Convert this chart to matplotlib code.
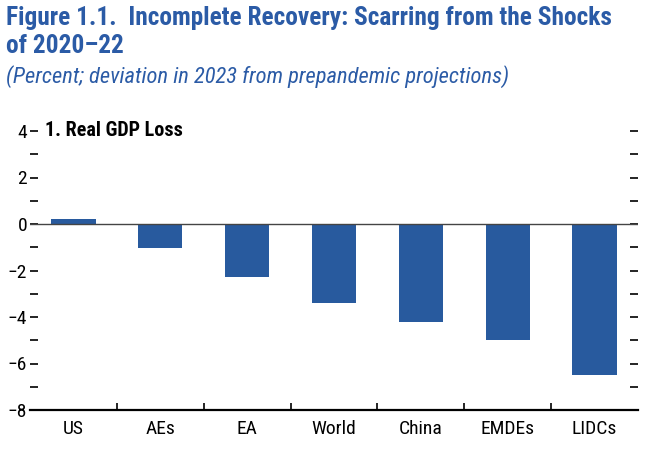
import matplotlib
matplotlib.use("Agg")
import matplotlib.pyplot as plt
from matplotlib import font_manager as fm
import numpy as np

categories = ["US", "AEs", "EA", "World", "China", "EMDEs", "LIDCs"]
values = [0.22, -1.05, -2.3, -3.4, -4.2, -5.0, -6.5]
major_ticks = [4, 2, 0, -2, -4, -6, -8]

names = {f.name for f in fm.fontManager.ttflist}
fam = None
for cand in ["Liberation Sans Narrow", "Roboto Condensed", "DejaVu Sans Condensed", "Liberation Sans"]:
    if cand in names:
        fam = cand
        break
plt.rcParams["font.family"] = [fam, "DejaVu Sans"]

fig = plt.figure(figsize=(6.54, 4.51), dpi=100)
ax = fig.add_axes([30/654, 1-410/451, 608/654, (410-131)/451])

blue_title = "#2B5BA6"
bar_color = "#285A9E"

x = np.arange(len(categories))
ax.bar(x, values, width=0.51, color=bar_color, zorder=2)
ax.axhline(0, color="#444444", lw=1.0, zorder=3)

ax.set_xlim(-0.5, len(categories) - 0.5)
ax.set_ylim(-8, 4)
for s in ["top", "left", "right"]:
    ax.spines[s].set_visible(False)
ax.spines["bottom"].set_linewidth(1.6)

ax.set_yticks(major_ticks)
ax.set_yticklabels([f"{v}".replace("-", "\u2212") for v in major_ticks], fontsize=14)
ax.set_yticks(np.arange(-7, 4, 2), minor=True)
ax.tick_params(axis="y", which="both", direction="in", length=6, width=1.2, pad=2,
               left=True, right=True, labelleft=True)
ax.set_xticks(x)
ax.set_xticklabels(categories, fontsize=14)
ax.tick_params(axis="x", which="major", length=0, pad=7)
ax.set_xticks(np.arange(0.5, len(categories) - 1, 1), minor=True)
ax.tick_params(axis="x", which="minor", direction="in", length=5, width=1.2)

ax.text(15/608, 1.0, "1. Real GDP Loss", transform=ax.transAxes, fontsize=14.5,
        fontweight="bold", va="center", ha="left")

fig.text(6/654, 1-6/451, "Figure 1.1.  Incomplete Recovery: Scarring from the Shocks\nof 2020\u201322",
         fontsize=18.3, fontweight="bold", color=blue_title, va="top", ha="left", linespacing=1.2)
fig.text(6/654, 1-65/451, "(Percent; deviation in 2023 from prepandemic projections)",
         fontsize=16.2, style="italic", color=blue_title, va="top", ha="left")

fig.savefig("out.png", dpi=100)
